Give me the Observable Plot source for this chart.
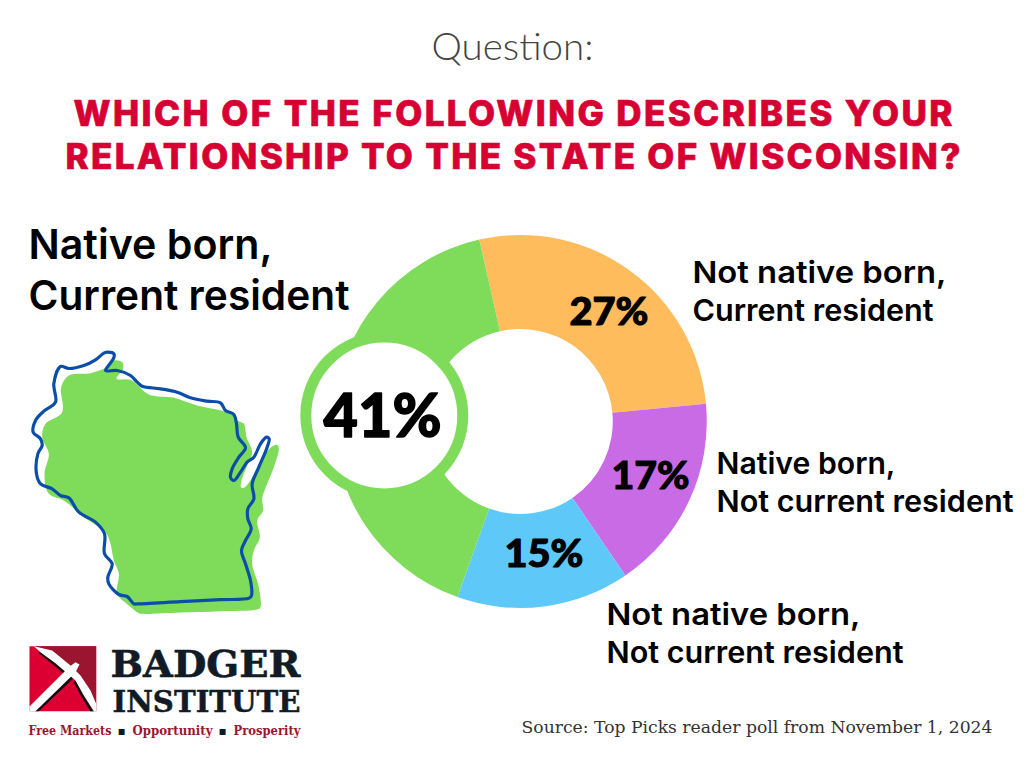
<!DOCTYPE html>
<html><head><meta charset="utf-8">
<style>html,body{margin:0;background:#fff}svg{display:block}</style>
<script src="https://cdn.jsdelivr.net/npm/d3@7"></script>
<script src="https://cdn.jsdelivr.net/npm/@observablehq/plot@0.6"></script>
</head><body><div id="chart"></div>
<script>
const categories = ["Not native born, Current resident","Native born, Not current resident","Not native born, Not current resident","Native born, Current resident"];
const shares = [27,17,15,41];
const colors = ["#FFBC5C","#CA6BE6","#5EC8F8","#7FDB5A"];
const questionLabel = "Question:";
const titleLines = ["WHICH OF THE FOLLOWING DESCRIBES YOUR","RELATIONSHIP TO THE STATE OF WISCONSIN?"];
const sourceNote = "Source: Top Picks reader poll from November 1, 2024";

// decorative traces, in reference-zoom coordinates
const mapFillTrace = [[650,240],[670,250],[678,290],[695,335],[680,375],[662,425],[662,442],[673,440],[705,395],[735,340],[755,318],[770,313],[775,325],[760,380],[740,430],[725,475],[728,510],[710,540],[718,590],[700,630],[695,670],[715,740],[720,800],[712,806],[600,812],[480,816],[365,820],[355,818],[325,795],[290,760],[295,700],[280,660],[270,610],[255,575],[190,530],[130,480],[85,460],[72,400],[85,340],[65,290],[75,250],[125,215],[122,140],[145,105],[210,98],[255,82],[280,60],[305,65],[308,85],[288,115],[330,118],[385,162],[460,172],[530,195],[610,212],[640,225]];
const mapLineTrace = [[262,35],[280,40],[280,52],[268,70],[255,90],[290,90],[330,105],[350,125],[365,137],[420,145],[470,155],[510,172],[560,182],[600,187],[615,210],[640,222],[648,250],[653,290],[675,322],[655,350],[635,385],[630,410],[640,420],[660,395],[680,365],[700,350],[720,310],[738,290],[746,295],[740,320],[715,380],[695,430],[700,475],[682,505],[682,535],[692,565],[675,600],[663,630],[675,670],[690,720],[693,765],[686,773],[600,777.5],[480,783.5],[352,790],[340,790],[320,768],[295,762],[265,730],[262,710],[275,670],[252,640],[252,580],[225,545],[175,515],[145,472],[120,465],[95,445],[60,430],[48,400],[52,340],[65,315],[60,295],[38,275],[45,240],[70,212],[105,185],[100,130],[120,78],[145,84],[190,75],[225,58],[250,38]];
const logoSquare = [[12,17],[212,17],[212,212],[12,212]];
const logoDark = [[25,17],[212,17],[212,212],[165,110],[135,85],[80,35]];
const logoShadowA = [[45,35],[90,68],[125,98],[120,104],[85,74],[38,36]];
const logoShadowB = [[28,212],[150,95],[156,102],[40,212]];
const logoShadowC = [[150,120],[175,165],[205,212],[194,212],[166,165],[144,125]];
const logoHead = [[25,17],[80,30],[135,75],[165,105],[195,150],[212,190],[212,212],[205,212],[175,165],[150,120],[125,98],[90,68],[45,35]];
const logoHandle = [[12,198],[130,80],[150,65],[162,72],[150,95],[30,212],[12,212]];

const mapPt = p => ({x:20+p[0]/3, y:340+p[1]/3});
const logoPt = p => ({x:25+p[0]/3, y:640+p[1]/3});

const slices = categories.map((category,i)=>({category,share:shares[i]}));
const cx=520.3, cy=421.5, outerR=186.5, innerR=92.5, startDeg=-12.7;

function fit(length,adjust="spacingAndGlyphs"){
  return (I,s,v,d,c,next)=>{
    const g=next(I,s,v,d,c);
    if(length) g.querySelectorAll("text").forEach(t=>{t.setAttribute("textLength",length);t.setAttribute("lengthAdjust",adjust);});
    return g;
  };
}
function txt(str,x,y,o){
  const {length,adjust,...rest}=o;
  return Plot.text([str],{x:[x],y:[y],text:[str],lineAnchor:"bottom",textAnchor:"start",render:fit(length,adjust),...rest});
}
const labelFont="Inter, 'Noto Sans', sans-serif";
const heavy="Lato, Inter, sans-serif";
const slab="'DejaVu Serif', serif";
const poly=(pts,f,fill)=>Plot.line(pts.map(f),{x:"x",y:"y",fill,stroke:"none",curve:"linear-closed"});
const pct={fontFamily:heavy,fontWeight:900,fill:"#000",stroke:"#000"};
const lab={fontFamily:labelFont,fontWeight:600,fontSize:30,fill:"#000"};
const ttl={fontFamily:"Inter, sans-serif",fontWeight:800,fontSize:35,fill:"#D60032",stroke:"#D60032",strokeWidth:0.7,adjust:"spacing"};

const chart=Plot.plot({
  width:1024,height:768,margin:0,
  style:{background:"#fff"},
  x:{domain:[0,1024],range:[0,1024],axis:null},
  y:{domain:[0,768],range:[0,768],axis:null},
  color:{domain:categories,range:colors},
  marks:[
    txt(questionLabel,512,59,{textAnchor:"middle",fontFamily:"Lato, sans-serif",fontWeight:300,fontSize:37,fill:"#444",length:162}),
    txt(titleLines[0],73,125,{...ttl,length:879}),
    txt(titleLines[1],65,168,{...ttl,length:895}),

    // donut
    Plot.dot(slices,{x:()=>cx,y:()=>cy,fill:"category",render:(I,s,v)=>{
      const pie=d3.pie().sort(null).value(d=>d.share)
        .startAngle(startDeg*Math.PI/180).endAngle(startDeg*Math.PI/180+2*Math.PI)(slices);
      const k=s.x(1)-s.x(0);
      const arc=d3.arc().innerRadius(innerR*k).outerRadius(outerR*k);
      const g=d3.create("svg:g");
      for(const i of I) g.append("path").attr("transform",`translate(${v.x[i]},${v.y[i]})`).attr("d",arc(pie[i])).attr("fill",v.fill[i]);
      return g.node();
    }}),
    Plot.dot([0],{x:[383.8],y:[415],r:78.5,fill:"#fff",stroke:colors[3],strokeWidth:11}),

    // percent labels
    txt(`${shares[3]}%`,323,436,{...pct,strokeWidth:1.4,fontSize:60,length:118}),
    txt(`${shares[0]}%`,569,324,{...pct,strokeWidth:1,fontSize:37,length:79}),
    txt(`${shares[1]}%`,611,488,{...pct,strokeWidth:1,fontSize:37,length:78}),
    txt(`${shares[2]}%`,504,566,{...pct,strokeWidth:1,fontSize:37,length:79}),

    // category labels
    txt("Native born,",28,258,{...lab,fontSize:41,length:244}),
    txt("Current resident",28,309,{...lab,fontSize:41,length:321}),
    txt("Not native born,",692,282,{...lab,length:254}),
    txt("Current resident",692,320,{...lab,length:241}),
    txt("Native born,",716,473,{...lab,length:179}),
    txt("Not current resident",716,511,{...lab,length:297}),
    txt("Not native born,",606,624,{...lab,length:254}),
    txt("Not current resident",606,662,{...lab,length:297}),

    // state map
    Plot.line(mapFillTrace.map(mapPt),{x:"x",y:"y",fill:colors[3],stroke:"none",curve:"catmull-rom-closed"}),
    Plot.line(mapLineTrace.map(mapPt),{x:"x",y:"y",stroke:"#0B4EA8",strokeWidth:3.2,fill:"none",curve:"catmull-rom-closed"}),

    // logo
    poly(logoSquare,logoPt,"#DC0032"),
    poly(logoDark,logoPt,"#9B1530"),
    poly(logoShadowA,logoPt,"#111"),
    poly(logoShadowB,logoPt,"#111"),
    poly(logoShadowC,logoPt,"#111"),
    poly(logoHead,logoPt,"#fff"),
    poly(logoHandle,logoPt,"#fff"),
    txt("BADGER",110,676,{fontFamily:slab,fontWeight:700,fontSize:38,fill:"#101B26",stroke:"#101B26",strokeWidth:0.6,length:190}),
    txt("INSTITUTE",112,711,{fontFamily:slab,fontWeight:700,fontSize:29,fill:"#101B26",stroke:"#101B26",strokeWidth:0.5,length:188}),
    txt("Free Markets",28,734,{fontFamily:slab,fontWeight:700,fontSize:12,fill:"#9B1530",length:83}),
    txt("▪",117,734,{fontFamily:slab,fontSize:12,fill:"#101B26"}),
    txt("Opportunity",132,734,{fontFamily:slab,fontWeight:700,fontSize:12,fill:"#9B1530",length:80}),
    txt("▪",218,734,{fontFamily:slab,fontSize:12,fill:"#101B26"}),
    txt("Prosperity",233,734,{fontFamily:slab,fontWeight:700,fontSize:12,fill:"#9B1530",length:67}),

    txt(sourceNote,521,732,{fontFamily:"'DejaVu Serif', serif",fontSize:16,fill:"#333",length:471})
  ]
});
document.getElementById("chart").append(chart);
</script></body></html>
